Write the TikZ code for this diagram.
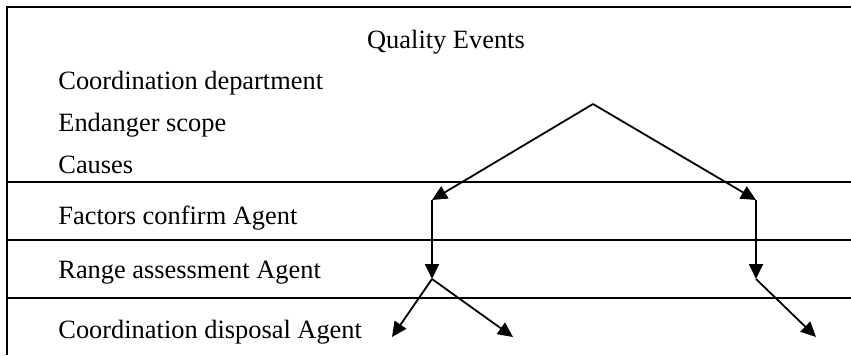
\documentclass[tikz,border=0pt]{standalone}
\usepackage{fontspec}
\setmainfont{Liberation Serif}
\usetikzlibrary{arrows.meta}
\begin{document}
\begin{tikzpicture}[x=0.5pt,y=-0.5pt,
  rule/.style={line width=1.1pt},
  flow/.style={line width=0.9pt,-{Triangle[length=7.5pt,width=7pt]}},
  lbl/.style={anchor=base west,inner sep=0pt,font=\fontsize{13.2}{15}\selectfont}]
\useasboundingbox (0,0) rectangle (851,355);
% frame and row rules
\draw[rule] (851,7) -- (7,7) -- (7,355);
\draw[rule] (7,182) -- (851,182);
\draw[rule] (7,240) -- (851,240);
\draw[rule] (7,298) -- (851,298);
% texts
\node[lbl,anchor=base] (qe) at (446,48) {Quality Events};
\node[lbl] (cd) at (58,89) {Coordination department};
\node[lbl] (es) at (58,131) {Endanger scope};
\node[lbl] (ca) at (58,173) {Causes};
\node[lbl] (fa) at (58,224) {Factors confirm Agent};
\node[lbl] (ra) at (58,278) {Range assessment Agent};
\node[lbl] (co) at (58,338) {Coordination disposal Agent};
% flow points
\coordinate (apex) at (593,104);
\coordinate (l1) at (432,200);
\coordinate (r1) at (756,200);
\coordinate (l2) at (432,279);
\coordinate (r2) at (756,279);
\coordinate (ta) at (392,337);
\coordinate (tb) at (513,337);
\coordinate (tc) at (816,337);
\draw[flow] (apex) -- (l1);
\draw[flow] (apex) -- (r1);
\draw[flow] (l1) -- (l2);
\draw[flow] (r1) -- (r2);
\draw[flow] (l2) -- (ta);
\draw[flow] (l2) -- (tb);
\draw[flow] (r2) -- (tc);
\end{tikzpicture}
\end{document}
